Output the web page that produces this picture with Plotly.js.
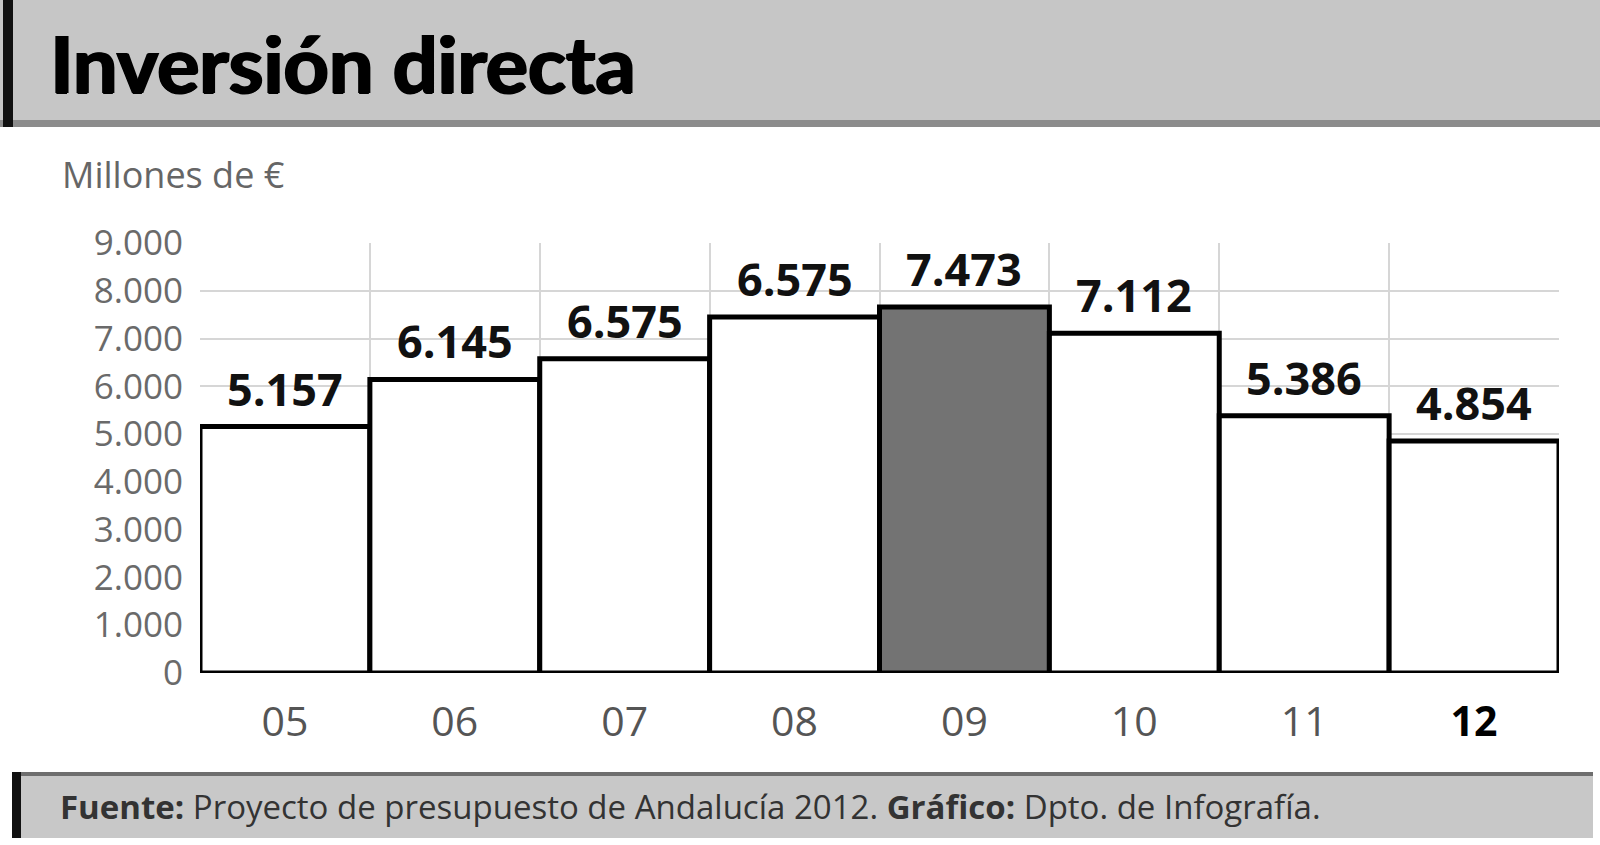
<!DOCTYPE html>
<html>
<head>
<meta charset="utf-8">
<script src="https://cdn.plot.ly/plotly-3.0.1.min.js"></script>
<style>html,body{margin:0;padding:0;background:#fff;}#chart{width:1600px;height:845px;}</style>
</head>
<body>
<div id="chart"></div>
<script>
// Data
var years = ['05', '06', '07', '08', '09', '10', '11', '12'];
var yearLabels = ['05', '06', '07', '08', '09', '10', '11', '<b><span style="color:#000">12</span></b>'];
var barHeights = [5157, 6145, 6575, 7450, 7660, 7112, 5386, 4854];
var valueLabels = ['5.157', '6.145', '6.575', '6.575', '7.473', '7.112', '5.386', '4.854'];
var barColors = ['#ffffff', '#ffffff', '#ffffff', '#ffffff', '#737373', '#ffffff', '#ffffff', '#ffffff'];
var yTicks = [0, 1000, 2000, 3000, 4000, 5000, 6000, 7000, 8000, 9000];
var titleText = 'Inversión directa';
var unitText = 'Millones de €';
var sourceText = '<b>Fuente:</b> Proyecto de presupuesto de Andalucía 2012. <b>Gráfico:</b> Dpto. de Infografía.';

// pixel -> paper helpers (plot area: x 200..1559, y 243..673)
var L = 200, R = 1559, T = 243, B = 673;
function px(x) { return (x - L) / (R - L); }
function py(y) { return (B - y) / (B - T); }

var trace = {
  type: 'bar',
  x: years,
  y: barHeights,
  marker: { color: barColors, line: { color: '#000', width: 5 } },
  hoverinfo: 'skip'
};

var annotations = years.map(function (yr, i) {
  return {
    x: i, y: barHeights[i], xref: 'x', yref: 'y',
    text: '<b>' + valueLabels[i] + '</b>', showarrow: false,
    yanchor: 'bottom', yshift: 6,
    font: { family: 'Open Sans', size: 45, color: '#111' }
  };
});
annotations.push({
  xref: 'paper', yref: 'paper', x: px(48), y: py(62), xanchor: 'left', yanchor: 'middle',
  text: '<b>' + titleText + '</b>', showarrow: false,
  font: { family: 'Lato', size: 79, color: '#000', weight: 900,
          shadow: '1.5px 0 0 #000, -1px 0 0 #000, 0 1px 0 #000' }
});
annotations.push({
  xref: 'paper', yref: 'paper', x: px(60), y: py(174), xanchor: 'left', yanchor: 'middle',
  text: unitText, showarrow: false,
  font: { family: 'Open Sans', size: 36, color: '#666' }
});
annotations.push({
  xref: 'paper', yref: 'paper', x: px(58), y: py(806), xanchor: 'left', yanchor: 'middle',
  text: sourceText, showarrow: false,
  font: { family: 'Open Sans', size: 33, color: '#333' }
});

var shapes = [
  // header band
  { type: 'rect', xref: 'paper', yref: 'paper', x0: px(0), x1: px(1600), y0: py(0), y1: py(126), fillcolor: '#c6c6c6', line: { width: 0 }, layer: 'below' },
  { type: 'rect', xref: 'paper', yref: 'paper', x0: px(0), x1: px(1600), y0: py(120), y1: py(127), fillcolor: '#8c8c8c', line: { width: 0 }, layer: 'below' },
  { type: 'rect', xref: 'paper', yref: 'paper', x0: px(3), x1: px(13), y0: py(0), y1: py(127), fillcolor: '#111', line: { width: 0 }, layer: 'below' },
  // footer band
  { type: 'rect', xref: 'paper', yref: 'paper', x0: px(12), x1: px(1593), y0: py(773), y1: py(838), fillcolor: '#c8c8c8', line: { width: 0 }, layer: 'below' },
  { type: 'rect', xref: 'paper', yref: 'paper', x0: px(12), x1: px(1593), y0: py(772), y1: py(776), fillcolor: '#6e6e6e', line: { width: 0 }, layer: 'below' },
  { type: 'rect', xref: 'paper', yref: 'paper', x0: px(12), x1: px(21), y0: py(772), y1: py(838), fillcolor: '#111', line: { width: 0 }, layer: 'below' }
];

var layout = {
  width: 1600, height: 845,
  margin: { l: L, r: 1600 - R, t: T, b: 845 - B, pad: 0 },
  paper_bgcolor: '#ffffff', plot_bgcolor: '#ffffff',
  separators: ',.',
  showlegend: false,
  bargap: 0,
  xaxis: {
    type: 'category', tickson: 'boundaries', ticks: '',
    range: [-0.5, years.length - 0.5], autorange: false,
    tickvals: years, ticktext: yearLabels,
    showgrid: true, gridcolor: '#d6d6d6', gridwidth: 2,
    zeroline: false, showline: false,
    tickfont: { family: 'Open Sans', size: 41, color: '#555' },
    ticklabelstandoff: 21,
    fixedrange: true
  },
  yaxis: {
    range: [0, 9000], autorange: false, tickvals: yTicks, tickformat: ',d', ticks: '',
    showgrid: true, gridcolor: '#d6d6d6', gridwidth: 2,
    zeroline: false, showline: false,
    tickfont: { family: 'Open Sans', size: 35, color: '#6a6a6a' },
    ticklabelstandoff: 16,
    fixedrange: true
  },
  annotations: annotations,
  shapes: shapes
};

Plotly.newPlot('chart', [trace], layout, { displayModeBar: false, staticPlot: true });
</script>
</body>
</html>
